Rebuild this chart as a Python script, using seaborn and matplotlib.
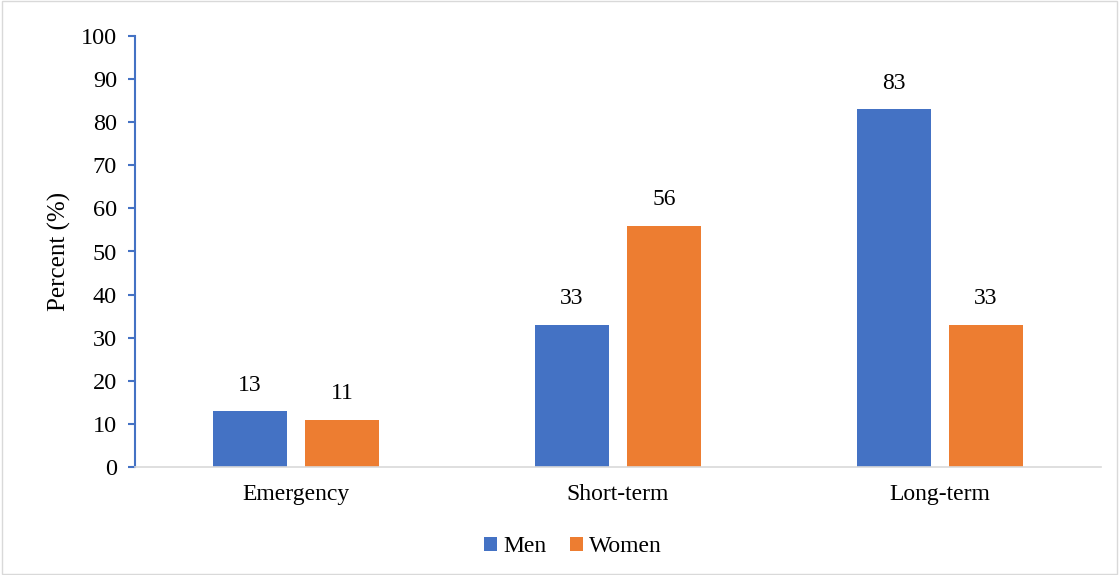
import matplotlib
matplotlib.use("Agg")
import matplotlib.pyplot as plt
import seaborn as sns
import pandas as pd

categories = ["Emergency", "Short-term", "Long-term"]
men = [13, 33, 83]
women = [11, 56, 33]
series = ["Men", "Women"]
yticks = [0, 10, 20, 30, 40, 50, 60, 70, 80, 90, 100]

df = pd.DataFrame({
    "cat": categories * 2,
    "val": men + women,
    "sex": ["Men"] * 3 + ["Women"] * 3,
})

sns.set_theme(style="white")
plt.rcParams['font.family'] = ['Liberation Serif', 'DejaVu Serif']

fig = plt.figure(figsize=(11.19, 5.75), dpi=100)
ax = fig.add_axes([135/1119, 1-467/575, (1101-135)/1119, (467-36)/575])

sns.barplot(data=df, x="cat", y="val", hue="sex", order=categories, hue_order=series,
            palette=["#4472C4", "#ED7D31"], width=0.572, gap=0.206, ax=ax,
            saturation=1, legend=True, linewidth=0)

for c in ax.containers:
    ax.bar_label(c, labels=[f"{v:.0f}" for v in c.datavalues], padding=11, fontsize=17, color="#000000")

ax.set_ylim(0, 100)
ax.set_xlim(-0.5, 2.5)
ax.set_yticks(yticks)
ax.set_yticklabels([str(t) for t in yticks], fontsize=17.5)
ax.tick_params(axis='x', labelsize=17, length=0, pad=12, colors="#000000")
ax.tick_params(axis='y', length=5, width=1.5, color="#4472C4", left=True, pad=8, labelcolor="#000000")
ax.set_xlabel("")
ax.set_ylabel("Percent (%)", fontsize=18, labelpad=7, color="#000000")
for s in ["top", "right"]:
    ax.spines[s].set_visible(False)
ax.spines["left"].set_color("#4472C4")
ax.spines["left"].set_linewidth(1.5)
ax.spines["bottom"].set_color("#D9D9D9")
ax.spines["bottom"].set_linewidth(1.2)

ax.get_legend().remove()
handles, labels = ax.get_legend_handles_labels()
fig.legend(handles[:2], labels[:2], loc="center", bbox_to_anchor=(573/1119, 1-547/575), ncol=2,
           frameon=False, fontsize=17, handlelength=0.55, handleheight=0.55, handletextpad=0.25,
           columnspacing=1.0, labelcolor="#000000")

border = plt.Rectangle((0.002, 0.002), 0.996, 0.996, transform=fig.transFigure, fill=False,
                       edgecolor="#D9D9D9", linewidth=1)
fig.patches.append(border)

fig.savefig("out.png", dpi=100)
